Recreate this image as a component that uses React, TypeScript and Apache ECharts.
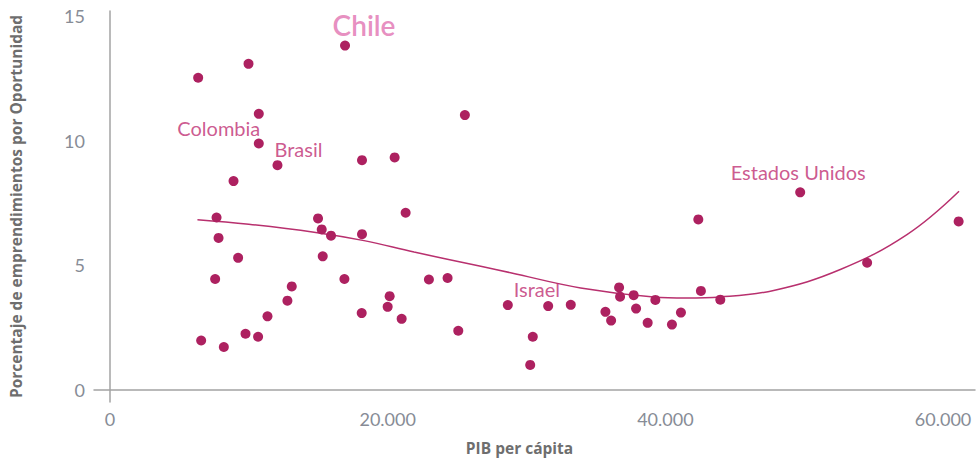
import React, { useEffect, useRef } from "react";
import * as echarts from "echarts";

// PIB per cápita (x) and porcentaje de emprendimientos por oportunidad (y)
const gdp = [
  6352, 9978, 16929, 10719, 25561, 10719, 12064, 18152, 20503, 8899,
  7676, 7820, 9230, 7575, 14985, 15251, 15921, 18152, 21294, 15323,
  16885, 22971, 24315, 13093, 12780, 20143, 20000,
  18130, 21007, 11345, 9762, 10669, 6568, 8201, 25085,
  28654, 31560, 33187, 30452, 30266, 36667, 36738, 37719, 39279, 35683,
  36093, 37891, 38726, 40474, 41121, 42560, 43957,
  42373, 49710, 61122, 54531,
];
const opp = [
  12.52, 13.08, 13.81, 11.07, 11.02, 9.88, 9.01, 9.21, 9.32, 8.37,
  6.91, 6.09, 5.29, 4.44, 6.87, 6.43, 6.18, 6.24, 7.1, 5.35,
  4.44, 4.42, 4.48, 4.14, 3.57, 3.75, 3.32,
  3.07, 2.84, 2.94, 2.24, 2.12, 1.97, 1.71, 2.36,
  3.39, 3.35, 3.4, 2.12, 0.99, 4.1, 3.73, 3.79, 3.6, 3.12,
  2.77, 3.25, 2.68, 2.61, 3.09, 3.96, 3.61,
  6.83, 7.92, 6.75, 5.09,
];

// Labelled countries
const countryNames = ["Chile", "Colombia", "Brasil", "Estados Unidos", "Israel"];
const countryGdp = [16929, 10719, 12064, 49710, 28654];
const countryOpp = [13.81, 9.88, 9.01, 7.92, 3.39];

// Trend line
const trendGdp = [6300, 10000, 14700, 18300, 21900, 26700, 28850, 33900, 39150, 41500, 43950, 47800, 52600, 57400, 61150];
const trendOpp = [6.82, 6.64, 6.32, 5.98, 5.52, 4.95, 4.69, 4.08, 3.72, 3.68, 3.72, 3.98, 4.82, 6.22, 7.96];

const xTicks = [0, 20000, 40000, 60000];
const yTicks = [0, 5, 10, 15];

const labelStyles: Record<string, any> = {
  Chile: { offset: [19, -21], fontSize: 28, color: "#e172b0", fontWeight: 600 },
  Colombia: { offset: [-40, -15], fontSize: 20, color: "#c02f73" },
  Brasil: { offset: [21, -16], fontSize: 20, color: "#c02f73" },
  "Estados Unidos": { offset: [-2, -20], fontSize: 20, color: "#c02f73" },
  Israel: { offset: [29, -16], fontSize: 20, color: "#c02f73" },
};

const fmt = (v: number) => String(v).replace(/\B(?=(\d{3})+(?!\d))/g, ".");

export default function App() {
  const ref = useRef<HTMLDivElement>(null);
  useEffect(() => {
    if (!ref.current) return;
    const chart = echarts.init(ref.current, null, { renderer: "svg" });
    const pointColor = "#ad2160";
    const tickColor = "#878c96";
    const titleColor = "#6e6e6e";
    chart.setOption({
      animation: false,
      grid: { left: 93, top: 11, right: 4, bottom: 60, containLabel: false },
      xAxis: {
        type: "value",
        min: -1150,
        max: 62300,
        name: "PIB per cápita",
        nameLocation: "middle",
        nameGap: 38,
        nameTextStyle: {
          fontFamily: "Open Sans",
          fontWeight: 700,
          fontSize: 15.5,
          color: titleColor,
          padding: [0, 30, 0, 0],
        },
        axisLine: { show: true, lineStyle: { color: "#a3a3a3", width: 1.5 } },
        axisTick: { show: false },
        splitLine: { show: false },
        axisLabel: {
          customValues: xTicks,
          formatter: (v: number) => fmt(v),
          fontFamily: "Lato",
          fontSize: 18,
          color: tickColor,
          margin: 8,
        },
      },
      yAxis: {
        type: "value",
        min: -0.5,
        max: 15.2,
        name: "Porcentaje de emprendimientos por Oportunidad",
        nameLocation: "middle",
        nameGap: 70,
        nameTextStyle: {
          fontFamily: "Open Sans",
          fontWeight: 700,
          fontSize: 15.5,
          color: titleColor,
        },
        axisLine: { show: true, lineStyle: { color: "#a3a3a3", width: 1.5 } },
        axisTick: { show: false },
        splitLine: { show: false },
        axisLabel: {
          customValues: yTicks,
          fontFamily: "Lato",
          fontSize: 18,
          color: tickColor,
          margin: 9,
        },
      },
      series: [
        {
          type: "line",
          data: trendGdp.map((x, i) => [x, trendOpp[i]]),
          smooth: 0.4,
          symbol: "none",
          lineStyle: { color: "#b8306e", width: 1.5 },
          z: 2,
        },
        {
          type: "scatter",
          data: gdp.map((x, i) => [x, opp[i]]),
          symbolSize: 10,
          itemStyle: { color: pointColor, opacity: 1 },
          z: 3,
        },
        {
          type: "scatter",
          symbolSize: 0,
          data: countryNames.map((n, i) => {
            const s = labelStyles[n];
            return {
              name: n,
              value: [countryGdp[i], countryOpp[i]],
              label: {
                show: true,
                position: "inside",
                formatter: n,
                offset: s.offset,
                fontSize: s.fontSize,
                color: s.color,
                fontWeight: s.fontWeight || 400,
                fontFamily: "Lato",
              },
            };
          }),
          z: 4,
        },
      ],
    });
    return () => chart.dispose();
  }, []);
  return (
    <div
      ref={ref}
      style={{ position: "fixed", left: 0, top: 0, width: 979, height: 462, background: "#fff" }}
    />
  );
}
